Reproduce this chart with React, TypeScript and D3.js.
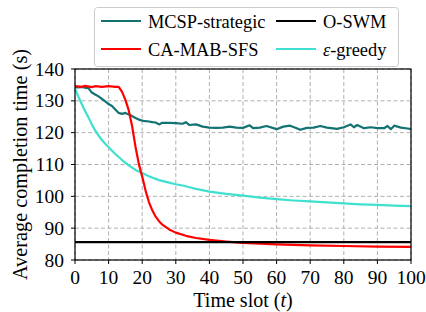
import React from 'react'
import * as d3 from 'd3'

// values
const mcspSlots = [0, 1, 2, 3, 4, 5, 6, 7, 8, 9, 10, 11, 12, 13, 14, 15, 16, 17, 18, 19, 20, 21, 22, 23, 24, 25, 26, 28, 30, 32, 33, 34, 36, 38, 40, 42, 44, 46, 48, 50, 52, 53, 55, 57, 60, 62, 64, 66, 67, 69, 71, 73, 75, 78, 80, 82, 83, 84, 86, 88, 90, 92, 93, 94, 95, 97, 99, 100]
const mcspValues = [134.3, 134.2, 134.4, 134.1, 134.0, 132.6, 132.0, 131.4, 130.6, 129.8, 129.0, 128.4, 127.3, 126.2, 125.9, 126.2, 125.7, 125.2, 124.6, 124.1, 123.8, 123.6, 123.5, 123.3, 123.2, 122.6, 123.1, 123.1, 123.0, 122.8, 123.3, 122.4, 122.6, 121.9, 121.6, 121.5, 121.6, 121.9, 121.6, 121.5, 122.3, 121.4, 121.6, 122.1, 121.1, 121.9, 122.2, 121.4, 120.9, 121.5, 121.6, 122.1, 121.6, 121.2, 121.7, 122.6, 121.7, 122.4, 121.4, 121.7, 121.4, 121.4, 122.1, 121.1, 122.2, 121.6, 121.3, 121.1]

const camabSlots = [0, 2, 3, 5, 6, 8, 10, 12, 13, 14, 15, 16, 17, 18, 19, 20, 21, 22, 23, 24, 25, 26, 28, 30, 33, 36, 40, 45, 50, 55, 60, 70, 80, 90, 100]
const camabValues = [134.6, 134.4, 134.7, 134.3, 134.6, 134.4, 134.6, 134.4, 134.4, 132.8, 130.3, 127.0, 122.0, 115.6, 110.2, 106.2, 101.8, 98.2, 95.6, 93.6, 92.2, 91.1, 89.6, 88.6, 87.6, 86.9, 86.3, 85.8, 85.4, 85.1, 84.9, 84.6, 84.4, 84.2, 84.1]

const oswmSlots = [0, 100]
const oswmValues = [85.6, 85.6]

const greedySlots = [0, 1, 2, 3, 4, 5, 6, 7, 8, 9, 10, 12, 14, 16, 18, 20, 22, 25, 28, 30, 32, 35, 40, 45, 50, 55, 60, 65, 70, 75, 80, 85, 90, 95, 100]
const greedyValues = [133.8, 131.3, 129.0, 126.8, 124.8, 122.6, 120.7, 119.1, 117.7, 116.5, 115.4, 113.3, 111.4, 109.7, 108.3, 107.3, 106.3, 105.1, 104.3, 103.8, 103.4, 102.6, 101.5, 100.8, 100.2, 99.6, 99.1, 98.7, 98.4, 98.1, 97.8, 97.5, 97.3, 97.1, 96.9]

const xTicks = [0, 10, 20, 30, 40, 50, 60, 70, 80, 90, 100]
const yTicks = [80, 90, 100, 110, 120, 130, 140]

const series = [
  { name: 'MCSP-strategic', color: '#137272', slots: mcspSlots, values: mcspValues },
  { name: 'O-SWM', color: '#000000', slots: oswmSlots, values: oswmValues },
  { name: 'CA-MAB-SFS', color: '#ff0000', slots: camabSlots, values: camabValues },
  { name: 'greedy', color: '#40e0d0', slots: greedySlots, values: greedyValues }
]

const W = 426
const H = 312
const FONT = 'Liberation Serif'

const left = 75
const right = 411
const top = 69
const bottom = 260

export default function App () {
  const x = d3.scaleLinear().domain([0, 100]).range([left, right])
  const y = d3.scaleLinear().domain([80, 140]).range([bottom, top])
  const line = d3.line<[number, number]>()
    .x(d => x(d[0]))
    .y(d => y(d[1]))

  // draw order: greedy, MCSP, CA-MAB, O-SWM on top
  const drawOrder = [series[3], series[0], series[2], series[1]]
  const cols = [101, 276]
  const rows = [21, 49]

  return (
    <svg width={W} height={H} style={{ position: 'absolute', left: 0, top: 0, background: '#fff' }}>
      {/* grid */}
      <g stroke='#b0b0b0' strokeWidth={1} strokeDasharray='4,2.5'>
        {xTicks.map(t => <line key={'gx' + t} x1={x(t)} x2={x(t)} y1={top} y2={bottom} />)}
        {yTicks.map(t => <line key={'gy' + t} x1={left} x2={right} y1={y(t)} y2={y(t)} />)}
      </g>

      {drawOrder.map(s => (
        <path
          key={s.name}
          d={line(s.slots.map((t, i) => [t, s.values[i]] as [number, number])) || ''}
          fill='none'
          stroke={s.color}
          strokeWidth={2.2}
          strokeLinejoin='round'
        />
      ))}

      <rect x={left} y={top} width={right - left} height={bottom - top} fill='none' stroke='#000' strokeWidth={1.2} />

      {/* ticks */}
      <g fontFamily={FONT} fontSize={19.5} fill='#000'>
        {xTicks.map(t => (
          <g key={'xt' + t}>
            <line x1={x(t)} x2={x(t)} y1={bottom} y2={bottom + 4} stroke='#000' />
            <text x={x(t)} y={bottom + 23.5} textAnchor='middle'>{t}</text>
          </g>
        ))}
        {yTicks.map(t => (
          <g key={'yt' + t}>
            <line x1={left - 4} x2={left} y1={y(t)} y2={y(t)} stroke='#000' />
            <text x={left - 11} y={y(t)} dy='0.34em' textAnchor='end'>{t}</text>
          </g>
        ))}
      </g>

      {/* axis titles */}
      <text x={(left + right) / 2} y={307} textAnchor='middle' fontFamily={FONT} fontSize={20}>
        Time slot (<tspan fontStyle='italic'>t</tspan>)
      </text>
      <text
        transform={`translate(27,${(top + bottom) / 2}) rotate(-90)`}
        textAnchor='middle'
        fontFamily={FONT}
        fontSize={20.3}
      >
        Average completion time (s)
      </text>

      {/* legend */}
      <rect x={94.5} y={7.5} width={304} height={59} rx={3} fill='#fff' fillOpacity={0.85} stroke='#cccccc' />
      {series.map((s, i) => {
        const cx = cols[i % 2]
        const cy = rows[Math.floor(i / 2)]
        return (
          <g key={'lg' + s.name}>
            <line x1={cx} x2={cx + 40} y1={cy} y2={cy} stroke={s.color} strokeWidth={2.2} />
            <text x={cx + 47} y={cy + 6.5} fontFamily={FONT} fontSize={18.4}>
              {s.name === 'greedy'
                ? <><tspan fontStyle='italic'>ε</tspan>-greedy</>
                : s.name}
            </text>
          </g>
        )
      })}
    </svg>
  )
}
